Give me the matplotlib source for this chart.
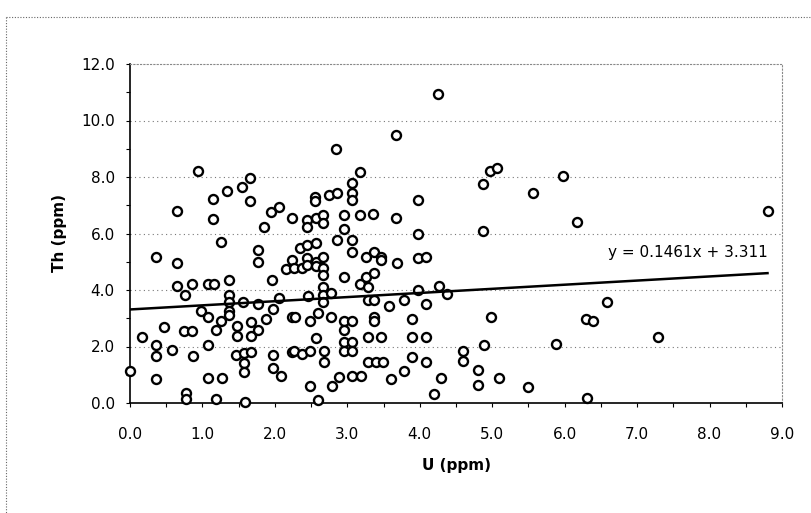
import matplotlib
matplotlib.use("Agg")
import matplotlib.pyplot as plt
import numpy as np
from matplotlib.lines import Line2D

# U (ppm) and Th (ppm) values
u_ppm = [4.25, 3.67, 2.85, 0.94, 3.17, 4.97, 5.06, 5.98, 1.65, 1.54,
         1.34, 4.87, 3.06, 3.06, 3.06, 2.75, 2.86, 2.56, 2.56, 3.97,
         5.56, 1.15, 1.65, 0.65, 1.15, 1.95, 2.05, 2.24, 2.45, 2.45,
         2.57, 2.66, 2.66, 2.96, 3.17, 3.36, 3.67, 6.17, 8.80, 1.85,
         2.96, 3.97, 4.87, 1.26, 2.86, 3.07, 3.07, 2.35, 2.45, 2.57,
         1.76, 1.76, 0.36, 0.65, 2.16, 2.24, 3.26, 3.37, 3.47, 3.47,
         3.68, 3.97, 4.08, 2.45, 2.57, 2.66, 2.27, 2.38, 2.45, 2.57,
         2.66, 2.66, 2.96, 3.26, 3.37, 3.18, 3.28, 2.67, 2.67, 2.67,
         1.37, 1.96, 0.65, 0.86, 0.76, 1.07, 1.16, 1.37, 1.37, 1.37,
         1.37, 1.56, 1.76, 2.06, 1.98, 1.88, 2.23, 0.98, 1.07, 1.26,
         1.19, 0.47, 0.75, 0.86, 0.17, 0.36, 0.36, 0.58, 0.87, 1.07,
         1.48, 1.48, 1.67, 1.67, 1.76, 1.47, 1.58, 1.67, 1.58, 1.58,
         1.98, 1.98, 2.09, 2.23, 0.00, 0.36, 1.08, 1.27, 0.77, 0.77,
         1.19, 1.59, 2.46, 2.78, 2.59, 2.48, 2.28, 2.78, 2.96, 3.07,
         2.96, 3.28, 3.37, 3.57, 3.78, 4.09, 3.97, 4.27, 4.38, 3.37,
         3.37, 3.89, 2.57, 3.28, 3.47, 3.89, 4.09, 2.27, 2.38, 2.49,
         2.68, 2.68, 2.96, 3.07, 2.96, 3.07, 3.28, 3.39, 3.49, 3.89,
         4.09, 3.78, 2.88, 3.07, 3.19, 2.79, 2.49, 3.60, 4.29, 4.20,
         2.59, 4.99, 6.58, 6.29, 6.39, 4.88, 5.88, 4.59, 4.59, 4.80,
         4.80, 5.10, 5.49, 6.31, 7.29]
th_ppm = [10.95, 9.47, 8.99, 8.20, 8.17, 8.20, 8.31, 8.03, 7.96, 7.64,
          7.50, 7.75, 7.78, 7.43, 7.18, 7.36, 7.43, 7.29, 7.15, 7.18,
          7.43, 7.22, 7.15, 6.80, 6.51, 6.76, 6.94, 6.55, 6.48, 6.23,
          6.55, 6.65, 6.37, 6.65, 6.65, 6.69, 6.55, 6.41, 6.80, 6.23,
          6.16, 5.99, 6.09, 5.70, 5.77, 5.77, 5.35, 5.49, 5.60, 5.67,
          5.42, 5.00, 5.18, 4.97, 4.75, 5.07, 5.18, 5.35, 5.18, 5.07,
          4.97, 5.14, 5.18, 5.14, 5.00, 5.18, 4.79, 4.79, 4.90, 4.86,
          4.79, 4.54, 4.47, 4.47, 4.61, 4.22, 4.12, 4.12, 3.84, 3.56,
          4.37, 4.37, 4.15, 4.22, 3.84, 4.22, 4.22, 3.84, 3.56, 3.24,
          3.13, 3.59, 3.49, 3.70, 3.31, 2.99, 3.03, 3.24, 3.06, 2.89,
          2.57, 2.68, 2.54, 2.54, 2.32, 2.04, 1.65, 1.87, 1.65, 2.04,
          2.71, 2.36, 2.85, 2.36, 2.57, 1.69, 1.76, 1.80, 1.41, 1.09,
          1.69, 1.23, 0.95, 1.80, 1.13, 0.85, 0.88, 0.88, 0.35, 0.14,
          0.14, 0.04, 3.80, 3.90, 3.20, 2.89, 3.03, 3.03, 2.89, 2.89,
          2.60, 3.66, 3.66, 3.45, 3.63, 3.49, 4.01, 4.15, 3.87, 3.06,
          2.89, 2.96, 2.29, 2.32, 2.32, 2.32, 2.32, 1.83, 1.73, 1.83,
          1.83, 1.44, 2.15, 2.15, 1.83, 1.83, 1.44, 1.44, 1.44, 1.62,
          1.44, 1.13, 0.92, 0.95, 0.95, 0.60, 0.60, 0.85, 0.88, 0.32,
          0.11, 3.06, 3.59, 2.99, 2.89, 2.04, 2.08, 1.83, 1.48, 1.16,
          0.63, 0.88, 0.56, 0.18, 2.32]

# Linear trendline shown on the chart
slope = 0.1461
intercept = 3.311
equation_label = "y = 0.1461x + 3.311"

x_label = "U (ppm)"
y_label = "Th (ppm)"
x_ticks = [0, 1, 2, 3, 4, 5, 6, 7, 8, 9]
y_ticks = [0, 2, 4, 6, 8, 10, 12]

W, H = 811, 513
fig = plt.figure(figsize=(W / 100, H / 100), dpi=100)
fig.patch.set_facecolor("white")

left, right, top, bottom = 130, 782, 64, 403
ax = fig.add_axes([left / W, 1 - bottom / H, (right - left) / W, (bottom - top) / H])

ax.scatter(u_ppm, th_ppm, s=42, facecolors="white", edgecolors="black",
           linewidths=1.7, zorder=3, clip_on=False)

xl = np.array([min(u_ppm), max(u_ppm)])
ax.plot(xl, slope * xl + intercept, color="black", lw=1.8, zorder=4)

ax.set_xlim(0, 9)
ax.set_ylim(0, 12)
ax.set_xticks(x_ticks)
ax.set_yticks(y_ticks)
ax.set_xticklabels([f"{v:.1f}" for v in x_ticks])
ax.set_yticklabels([f"{v:.1f}" for v in y_ticks])
ax.set_xticks(np.arange(0, 9.01, 0.5), minor=True)
ax.set_yticks(np.arange(0, 12.01, 1), minor=True)

ax.tick_params(axis="both", which="both", direction="out", length=3, width=0.8,
               colors="black", labelsize=11)
ax.tick_params(axis="x", which="major", pad=14)
ax.tick_params(axis="y", which="major", pad=8)

for v in y_ticks[1:-1]:
    ax.axhline(v, color="#777777", lw=0.8, ls=(0, (1, 3)), zorder=1)

ax.spines["left"].set_color("black")
ax.spines["bottom"].set_color("black")
ax.spines["left"].set_linewidth(1.2)
ax.spines["bottom"].set_linewidth(1.2)
for s in ("top", "right"):
    ax.spines[s].set_color("#888888")
    ax.spines[s].set_linewidth(0.8)
    ax.spines[s].set_linestyle((0, (1, 2)))

ax.set_xlabel(x_label, fontsize=11, fontweight="bold", labelpad=12)
ax.set_ylabel(y_label, fontsize=11, fontweight="bold", labelpad=10)

ax.text(8.8, 5.05, equation_label, fontsize=11, ha="right", va="bottom")

# outer chart-area border (dotted)
fig.add_artist(Line2D([6 / W, 1.0], [1 - 17 / H, 1 - 17 / H], transform=fig.transFigure,
                      color="#666666", lw=0.8, ls=(0, (1, 1.5))))
fig.add_artist(Line2D([6 / W, 6 / W], [1 - 17 / H, 0.0], transform=fig.transFigure,
                      color="#666666", lw=0.8, ls=(0, (1, 1.5))))

fig.savefig("out.png", dpi=100, facecolor="white")
